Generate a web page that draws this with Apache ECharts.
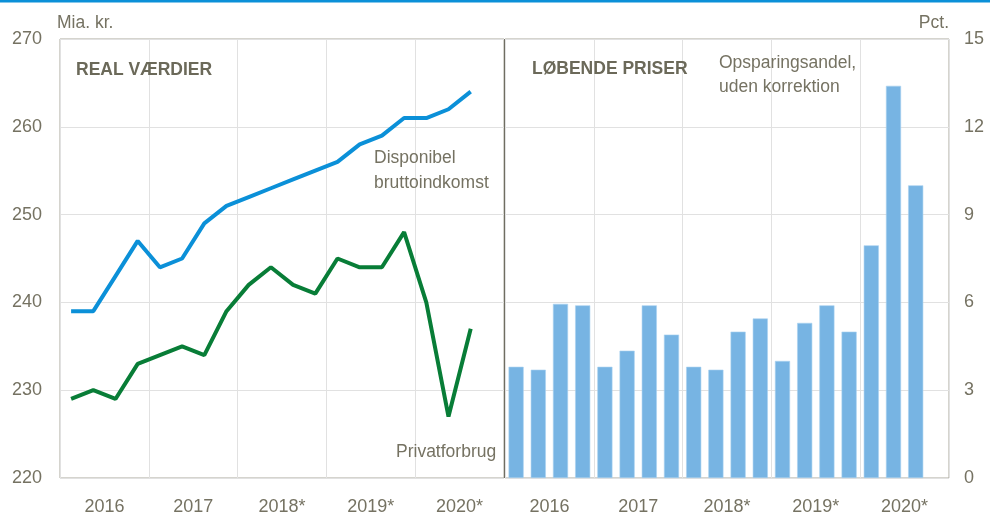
<!DOCTYPE html>
<html>
<head>
<meta charset="utf-8">
<script src="https://cdn.jsdelivr.net/npm/echarts@6/dist/echarts.min.js"></script>
<style>
  html, body { margin: 0; padding: 0; background: #fff; }
  #chart { width: 990px; height: 513px; }
</style>
</head>
<body>
<div id="chart"></div>
<script>
// kvartaler 2016K1 - 2020K4 (sidste kvartal tomt)
const quarters = []
for (let y = 2016; y <= 2020; y++) {
  for (let q = 1; q <= 4; q++) quarters.push(y + 'K' + q)
}
const years = ['2016', '2017', '2018*', '2019*', '2020*']

// real værdier, mia. kr.
const disponibel = [239, 239, 243, 247, 244, 245, 249, 251, 252, 253, 254, 255, 256, 258, 259, 261, 261, 262, 264, null]
const privatforbrug = [229, 230, 229, 233, 234, 235, 234, 239, 242, 244, 242, 241, 245, 244, 244, 248, 240, 227, 237, null]

// løbende priser, pct.
const opsparing = [3.8, 3.7, 5.95, 5.9, 3.8, 4.35, 5.9, 4.9, 3.8, 3.7, 5.0, 5.45, 4.0, 5.3, 5.9, 5.0, 7.95, 13.4, 10.0, null]

const font = '"Liberation Sans", Arial, sans-serif'
const grey = '#757262'
const axisGrey = '#aaa89c'
const gridGrey = '#e1e1e1'

const chart = echarts.init(document.getElementById('chart'))

function yearAxis(gridIndex) {
  return {
    type: 'category',
    gridIndex: gridIndex,
    data: years,
    boundaryGap: true,
    axisLine: { show: false },
    axisTick: { show: false },
    axisLabel: { color: grey, fontSize: 18, fontFamily: font, margin: 20 },
    splitLine: { show: true, lineStyle: { color: gridGrey, width: 1 } }
  }
}

function quarterAxis(gridIndex) {
  return {
    type: 'category',
    gridIndex: gridIndex,
    data: quarters,
    boundaryGap: true,
    show: false
  }
}

chart.setOption({
  animation: false,
  grid: [
    { left: 60, right: 486, top: 39, bottom: 35, show: true, borderColor: axisGrey, borderWidth: 1, outerBoundsMode: 'none' },
    { left: 505, right: 41, top: 39, bottom: 35, show: true, borderColor: axisGrey, borderWidth: 1, outerBoundsMode: 'none' }
  ],
  xAxis: [yearAxis(0), quarterAxis(0), yearAxis(1), quarterAxis(1)],
  yAxis: [
    {
      type: 'value',
      gridIndex: 0,
      min: 220,
      max: 270,
      interval: 10,
      name: 'Mia. kr.',
      nameLocation: 'end',
      nameGap: 7,
      nameTextStyle: { color: grey, fontSize: 17.5, fontFamily: font, align: 'left', padding: [0, 0, 0, -3] },
      axisLine: { show: false },
      axisTick: { show: false },
      axisLabel: { color: grey, fontSize: 18, fontFamily: font, margin: 18 },
      splitLine: { lineStyle: { color: gridGrey, width: 1 } }
    },
    {
      type: 'value',
      gridIndex: 1,
      position: 'right',
      min: 0,
      max: 15,
      interval: 3,
      name: 'Pct.',
      nameLocation: 'end',
      nameGap: 7,
      nameTextStyle: { color: grey, fontSize: 17.5, fontFamily: font, align: 'right', padding: [0, 0, 0, 0] },
      axisLine: { show: false },
      axisTick: { show: false },
      axisLabel: { color: grey, fontSize: 18, fontFamily: font, margin: 15 },
      splitLine: { lineStyle: { color: gridGrey, width: 1 } }
    }
  ],
  series: [
    {
      name: 'Disponibel bruttoindkomst',
      type: 'line',
      xAxisIndex: 1,
      yAxisIndex: 0,
      data: disponibel,
      symbol: 'none',
      lineStyle: { color: '#0b90d8', width: 4 },
      z: 3
    },
    {
      name: 'Privatforbrug',
      type: 'line',
      xAxisIndex: 1,
      yAxisIndex: 0,
      data: privatforbrug,
      symbol: 'none',
      lineStyle: { color: '#087d37', width: 4 },
      z: 3
    },
    {
      name: 'Opsparingsandel',
      type: 'bar',
      xAxisIndex: 3,
      yAxisIndex: 1,
      data: opsparing,
      barWidth: '68%',
      itemStyle: { color: '#77b4e3', borderColor: '#a9d2f0', borderWidth: 0.6 }
    }
  ],
  graphic: [
    { type: 'rect', shape: { x: 0, y: 0, width: 990, height: 2.5 }, style: { fill: '#0b90d8' } },
    { type: 'rect', shape: { x: 504, y: 39, width: 1, height: 439 }, style: { fill: '#6f6d62' }, z: 10 },
    { type: 'text', z: 20, left: 76, top: 61, style: { text: 'REAL VÆRDIER', fill: '#6b6959', font: 'bold 17.5px ' + font } },
    { type: 'text', z: 20, left: 532, top: 60, style: { text: 'LØBENDE PRISER', fill: '#6b6959', font: 'bold 17.5px ' + font } },
    { type: 'text', z: 20, left: 374, top: 146, style: { text: 'Disponibel\nbruttoindkomst', fill: grey, font: '17.5px ' + font, lineHeight: 25 } },
    { type: 'text', z: 20, left: 396, top: 443, style: { text: 'Privatforbrug', fill: grey, font: '17.5px ' + font } },
    { type: 'text', z: 20, left: 719, top: 51, style: { text: 'Opsparingsandel,\nuden korrektion', fill: grey, font: '17.5px ' + font, lineHeight: 24 } }
  ]
})
</script>
</body>
</html>
